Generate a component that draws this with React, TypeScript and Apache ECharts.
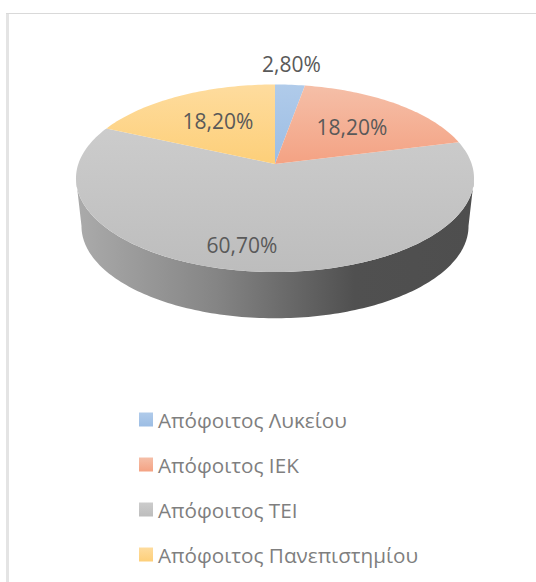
import React, { useEffect, useRef } from "react";
import * as echarts from "echarts";

const categories = ["Απόφοιτος Λυκείου", "Απόφοιτος ΙΕΚ", "Απόφοιτος ΤΕΙ", "Απόφοιτος Πανεπιστημίου"];
const shares = [2.8, 18.2, 60.7, 18.2];
const topColors = ["#B0CBEA", "#F5BFA8", "#CCCCCC", "#FEDC9E"];
const bottomColors = ["#9CBDE4", "#F4A283", "#BDBDBD", "#FDCF79"];

const total = shares.reduce((a, b) => a + b, 0);

// perspective disc
const CX = 275;
const CY = 164;
const A = 196.7;
const B = 91.6;
const S = 0.152;
const DEPTH_TOP = 178;
const DEPTH_BOTTOM = 226;
const WIDEST = Math.acos(-0.15);
const labelOffsets = [
  [16.5, -100],
  [77, -37],
  [-33, 81],
  [-57, -43],
];

function project(theta: number, r = 1) {
  const u = Math.sin(theta) * r;
  const v = -Math.cos(theta) * r;
  const w = 1 - S * v;
  return [CX + (A * u) / w, CY + (B * v) / w];
}

function arcPoints(from: number, to: number) {
  const n = Math.max(2, Math.ceil((to - from) / 0.02));
  const pts: number[][] = [];
  for (let i = 0; i <= n; i++) pts.push(project(from + ((to - from) * i) / n));
  return pts;
}

function wallPoints(from: number, to: number) {
  const top = arcPoints(from, to);
  const rx = 193.5 / 199;
  const ry = 92 / 93.75;
  const bottom = top
    .map(([x, y]) => [CX + (x - CX) * rx, DEPTH_BOTTOM + (y - DEPTH_TOP) * ry])
    .reverse();
  return [...top, ...bottom];
}

const fmt = (v: number) => v.toFixed(2).replace(".", ",") + "%";

const grad = (a: string, b: string) =>
  new echarts.graphic.LinearGradient(0, 0, 0, 1, [
    { offset: 0, color: a },
    { offset: 1, color: b },
  ]);

function buildSeries() {
  let cum = 0;
  return categories.map((name, i) => {
    const start = (cum / total) * Math.PI * 2;
    cum += shares[i];
    const end = (cum / total) * Math.PI * 2;
    return {
      type: "custom",
      name,
      coordinateSystem: "none",
      silent: true,
      z: i === 2 ? 1 : 2,
      itemStyle: { color: grad(topColors[i], bottomColors[i]) },
      data: [[start, end, shares[i]]],
      renderItem: (_p: any, api: any) => {
        const a0 = api.value(0);
        const a1 = api.value(1);
        const children: any[] = [];
        const from = Math.max(a0, WIDEST);
        const to = Math.min(a1, Math.PI * 2 - WIDEST);
        if (to > from) {
          children.push({
            type: "polygon",
            shape: { points: wallPoints(from, to) },
            style: {
              fill: new echarts.graphic.LinearGradient(0, 0, 1, 0, [
                { offset: 0, color: "#ABABAB" },
                { offset: 0.35, color: "#858585" },
                { offset: 0.7, color: "#505050" },
                { offset: 1, color: "#4E4E4E" },
              ]),
            },
          });
        }
        children.push({
          type: "polygon",
          shape: { points: [[CX, CY], ...arcPoints(a0, a1)] },
          style: { fill: grad(topColors[i], bottomColors[i]) },
        });
        children.push({
          type: "text",
          z2: 10,
          style: {
            x: CX + labelOffsets[i][0],
            y: CY + labelOffsets[i][1],
            text: fmt(api.value(2)),
            fill: "#595959",
            font: '21px "Open Sans", sans-serif',
            align: "center",
            verticalAlign: "middle",
          },
        });
        return { type: "group", children };
      },
    };
  });
}

export default function App() {
  const ref = useRef<HTMLDivElement>(null);
  useEffect(() => {
    const chart = echarts.init(ref.current!, undefined, { renderer: "svg" });
    chart.setOption({
      animation: false,
      backgroundColor: "#FFFFFF",
      graphic: [
        { type: "rect", shape: { x: 6, y: 13, width: 3, height: 569 }, style: { fill: "#E4E4E4" } },
        { type: "rect", shape: { x: 6, y: 13, width: 530, height: 1 }, style: { fill: "#D9D9D9" } },
      ],
      legend: {
        orient: "vertical",
        left: 139,
        top: 409,
        itemWidth: 14,
        itemHeight: 14,
        itemGap: 24,
        icon: "rect",
        padding: 0,
        textStyle: { color: "#7F7F7F", fontSize: 20.7, lineHeight: 20, fontFamily: '"Open Sans", sans-serif' },
        data: categories,
      },
      series: buildSeries(),
    });
    return () => chart.dispose();
  }, []);
  return <div ref={ref} style={{ position: "fixed", left: 0, top: 0, width: 536, height: 582 }} />;
}
